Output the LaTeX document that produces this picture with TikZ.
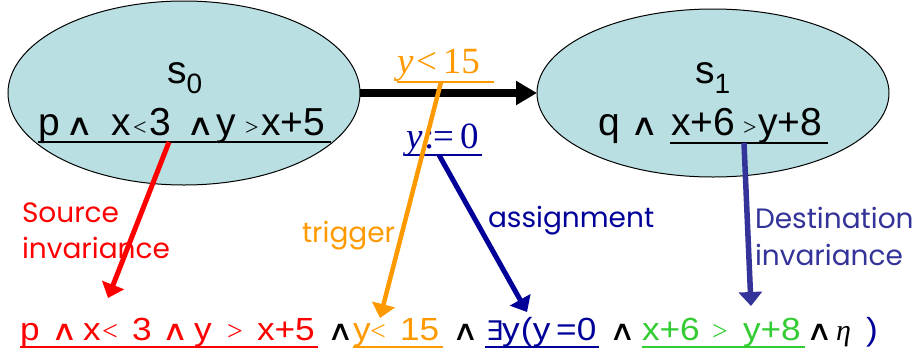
\documentclass[tikz,border=0pt]{standalone}
\usepackage{fontspec}
\setmainfont{Liberation Sans}
\newfontfamily\widesans[FakeStretch=1.1]{Liberation Sans}
\newfontfamily\tnr{Liberation Serif}
\newfontfamily\comic{Poppins}
\newfontfamily\dvs{DejaVu Sans}
\newfontfamily\dvswide[FakeStretch=1.3]{DejaVu Sans}
\usetikzlibrary{shapes.geometric,arrows.meta}
\definecolor{ellfill}{RGB}{185,223,227}
\definecolor{myorange}{RGB}{255,153,0}
\definecolor{mynavy}{RGB}{0,0,153}
\definecolor{mydest}{RGB}{51,51,153}
\definecolor{mygreen}{RGB}{51,204,51}
\definecolor{myred}{RGB}{255,0,0}
\newcommand\fsz[1]{\fontsize{#1}{#1}\selectfont}
\newcommand\andop[1]{{\dvswide\fsz{#1}∧}}
\newcommand\lsym[1]{{\tnr\fsz{#1}<}}
\newcommand\gsym[1]{{\tnr\fsz{#1}>}}
% piece placed at an offset from the node's left edge
\newcommand\pc[2]{\rlap{\hspace*{#1pt}#2}}
\begin{document}
\begin{tikzpicture}[x=1pt,y=-1pt,
  every node/.style={inner sep=0pt, outer sep=0pt},
  stateell/.style={ellipse, draw=black, line width=1pt, fill=ellfill},
  big/.style={font=\fsz{39}, anchor=base west},
  bot/.style={font=\widesans\fsz{32}, anchor=base west},
  lbl/.style={font=\comic\fsz{28}, anchor=base west, align=left},
  ul/.style={line width=1.6pt},
  ptr/.style={line width=5pt, -{Triangle[length=14pt,width=23pt]}},
  trans/.style={line width=8pt, -{Triangle[length=21pt,width=23pt]}}]
\useasboundingbox (0,0) rectangle (924,349);

% states
\node[stateell, minimum width=352pt, minimum height=184pt] (s0) at (184,93) {};
\node[stateell, minimum width=352pt, minimum height=168pt] (s1) at (713,93) {};

\node[big] (s0name) at (167,83) {s\raisebox{-10pt}{\fsz{28}0}};
\node[big] (s0inv) at (38,135) {\pc{0}{p}\pc{27}{\andop{30}}\pc{73}{x}\pc{95}{\lsym{24}}\pc{111}{3}\pc{148}{\andop{30}}\pc{178}{y}\pc{207}{\gsym{24}}\pc{223}{x+5}\hspace*{293pt}};
\node[big] (s1name) at (695,83) {s\raisebox{-10pt}{\fsz{28}1}};
\node[big] (s1q) at (598,135) {\pc{0}{q}\pc{32}{\andop{30}}\hspace*{58pt}};
\node[big] (s1inv) at (670,135) {\pc{1}{x+6}\pc{73}{\gsym{24}}\pc{88}{y+8}\hspace*{158pt}};

% transition
\draw[trans] (s0) -- (s1);
\node[font=\tnr\fsz{37}, anchor=base west, text=myorange] (guard) at (397,73) {\pc{0}{\textit{y}}\pc{19}{<}\pc{46}{15}\hspace*{97pt}};
\node[font=\tnr\fsz{37}, anchor=base west, text=mynavy] (assign) at (405,148) {\pc{1}{\textit{y}}\pc{19}{:}\pc{28}{=}\pc{55}{0}\hspace*{77pt}};

% underlines
\draw[ul, black] ([yshift=-7pt]s0inv.base west) -- ([yshift=-7pt]s0inv.base east);
\draw[ul, black] ([yshift=-8pt]s1inv.base west) -- ([yshift=-8pt]s1inv.base east);
\draw[ul, myorange] ([yshift=-9pt]guard.base west) -- ([yshift=-9pt]guard.base east);
\draw[ul, mynavy] ([yshift=-7pt]assign.base west) -- ([yshift=-7pt]assign.base east);

% bottom formula
\node[bot, text=myred] (bsrc) at (20,340) {\pc{0}{p}\pc{31}{\andop{28}}\pc{63}{x}\pc{82}{\lsym{28}}\pc{112}{3}\pc{142}{\andop{28}}\pc{174}{y}\pc{207}{\gsym{28}}\pc{237}{x+5}\hspace*{298pt}};
\node[bot] (band1) at (327,340) {\andop{28}};
\node[bot, text=myorange] (btrg) at (353,340) {\pc{0}{y}\pc{17}{\lsym{28}}\pc{47}{15}\hspace*{90pt}};
\node[bot] (band2) at (452,340) {\andop{28}};
\node[bot, text=mynavy] (basg) at (485,340) {\pc{1}{{\dvs\fsz{27}∃}}\pc{17}{y}\pc{36}{(}\pc{48}{y}\pc{71}{=}\pc{92}{0}\hspace*{114pt}};
\node[bot] (band3) at (609,340) {\andop{28}};
\node[bot, text=mygreen] (bdst) at (642,340) {\pc{0}{x+6}\pc{70}{\gsym{28}}\pc{101}{y+8}\hspace*{163pt}};
\node[bot] (band4) at (806,340) {\andop{28}};
\node[bot] (beta) at (836,340) {{\tnr\itshape\fsz{30}η}};
\node[bot, text=mynavy] (bclose) at (866,340) {)};

\draw[ul, myred] ([yshift=-7pt]bsrc.base west) -- ([yshift=-7pt]bsrc.base east);
\draw[ul, myorange] ([yshift=-7pt]btrg.base west) -- ([yshift=-7pt]btrg.base east);
\draw[ul, mynavy] ([yshift=-7pt]basg.base west) -- ([yshift=-7pt]basg.base east);
\draw[ul, mygreen] ([yshift=-7pt]bdst.base west) -- ([yshift=-7pt]bdst.base east);

% labels
\node[lbl, text=myred] (lsrc) at (22,258) {Source\\[8pt]invariance};
\node[lbl, text=myorange] (ltrg) at (302,242) {trigger};
\node[lbl, text=mynavy] (lasg) at (488,227) {assignment};
\node[lbl, text=mydest] (ldst) at (755,265) {Destination\\[9pt]invariance};

% pointers
\coordinate (pr1) at (169,142);
\coordinate (pr2) at (108,298);
\coordinate (po1) at (441,82);
\coordinate (po2) at (380,318);
\coordinate (pn1) at (439,155);
\coordinate (pn2) at (527,312);
\coordinate (pd1) at (744,143);
\coordinate (pd2) at (751,306);
\draw[ptr, myred] (pr1) -- (pr2);
\draw[ptr, myorange, line width=4.5pt] (po1) -- (po2);
\draw[ptr, mynavy] (pn1) -- (pn2);
\draw[ptr, mydest, line width=5.5pt] (pd1) -- (pd2);
\end{tikzpicture}
\end{document}
